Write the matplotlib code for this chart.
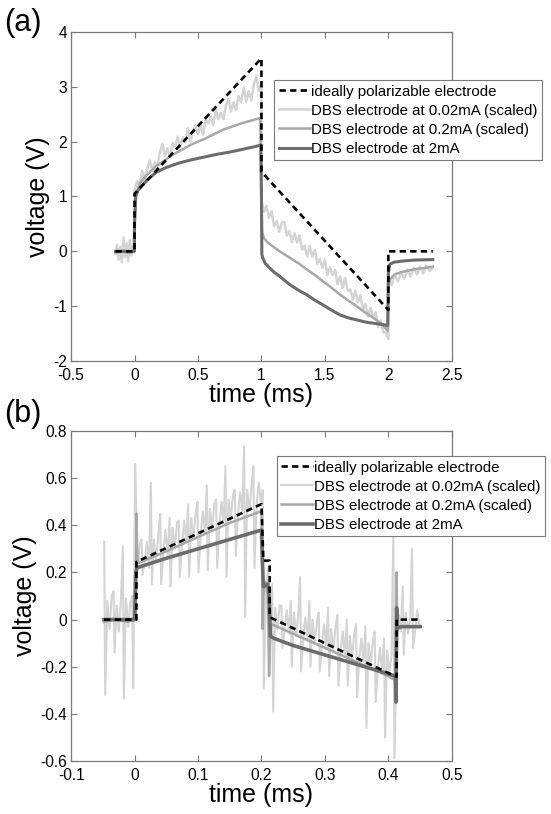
import numpy as np
import matplotlib
matplotlib.use("Agg")
import matplotlib.pyplot as plt
from matplotlib.ticker import FormatStrFormatter

plt.rcParams['font.family'] = ['Liberation Sans', 'DejaVu Sans']

labels = ["ideally polarizable electrode",
          "DBS electrode at 0.02mA (scaled)",
          "DBS electrode at 0.2mA (scaled)",
          "DBS electrode at 2mA"]
c_light, c_mid, c_dark = "#d4d4d4", "#a8a8a8", "#6c6c6c"

# ---------------- panel (a) ----------------
ideal_a_t = [-0.15, 0.0, 0.0, 1.0, 1.0, 2.0, 2.0, 2.35]
ideal_a_v = [0.0, 0.0, 1.05, 3.52, 1.45, -1.07, 0.0, 0.0]

# 0.02mA, noisy, sampled evenly in each phase
a002_pre = [-0.05, 0.12, -0.15, 0.08, -0.20, 0.25, -0.10, 0.15, -0.18, 0.20, -0.08, 0.10, 0.0]
a002_rise = [1.10, 1.28, 1.22, 1.47, 1.31, 1.50, 1.66, 1.48, 1.63, 1.54, 1.80, 1.96, 1.73,
             1.88, 1.72, 1.98, 1.90, 2.09, 1.90, 2.08, 1.99, 2.25, 2.00, 2.19, 2.29, 2.13,
             2.31, 2.13, 2.42, 2.33, 2.46, 2.30, 2.58, 2.41, 2.53, 2.41, 2.66, 2.78, 2.55,
             2.72, 2.58, 2.83, 2.72, 2.99, 2.73, 2.92, 2.75, 3.04, 3.20, 2.92, 3.05]
a002_decay = [0.94, 0.72, 0.83, 0.61, 0.73, 0.46, 0.55, 0.36, 0.52, 0.54, 0.29, 0.37, 0.17,
              0.33, 0.16, 0.29, 0.03, 0.10, -0.09, 0.10, -0.10, 0.03, -0.23, -0.14, -0.30,
              -0.15, -0.43, -0.29, -0.43, -0.34, -0.60, -0.46, -0.67, -0.49, -0.72, -0.70,
              -0.88, -0.72, -0.93, -0.80, -1.06, -0.96, -1.19, -1.03, -1.20, -1.11, -1.38,
              -1.26, -1.48, -1.48, -1.60]
a002_post = [-0.45, -0.62, -0.42, -0.55, -0.38, -0.50, -0.33, -0.46, -0.30, -0.42, -0.28,
             -0.40, -0.26, -0.36, -0.30]

a02_t = [-0.15, -0.1, -0.05, -0.002, 0.0, 0.01, 0.04, 0.1, 0.17, 0.3, 0.44, 0.55, 0.7, 0.85,
         0.99, 1.0, 1.005, 1.02, 1.05, 1.09, 1.15, 1.225, 1.3, 1.356, 1.42, 1.487, 1.55,
         1.62, 1.68, 1.75, 1.82, 1.88, 1.94, 1.995, 2.0, 2.01, 2.05, 2.1, 2.2, 2.35]
a02_v = [-0.02, 0.0, -0.03, 0.0, 0.5, 1.0, 1.24, 1.40, 1.55, 1.76, 1.94, 2.05, 2.22, 2.34,
         2.43, 1.0, 0.35, 0.24, 0.16, 0.09, -0.01, -0.12, -0.23, -0.33, -0.43, -0.55, -0.66,
         -0.79, -0.89, -1.0, -1.12, -1.21, -1.31, -1.45, -0.65, -0.52, -0.42, -0.38, -0.33, -0.28]

a2_t = [-0.15, -0.002, 0.0, 0.01, 0.03, 0.06, 0.1, 0.17, 0.25, 0.35, 0.45, 0.55, 0.65, 0.75,
        0.85, 0.95, 0.995, 1.0, 1.003, 1.01, 1.03, 1.067, 1.1, 1.146, 1.225, 1.3, 1.356, 1.42,
        1.487, 1.55, 1.619, 1.68, 1.75, 1.82, 1.88, 1.94, 1.995, 2.0, 2.01, 2.04, 2.1, 2.2, 2.35]
a2_v = [0.0, 0.0, 0.5, 1.02, 1.12, 1.2, 1.30, 1.44, 1.53, 1.61, 1.67, 1.72, 1.77, 1.81, 1.86,
        1.91, 1.94, 1.0, -0.05, -0.12, -0.22, -0.31, -0.38, -0.46, -0.61, -0.72, -0.79, -0.89,
        -0.98, -1.07, -1.16, -1.21, -1.25, -1.29, -1.31, -1.33, -1.35, -0.4, -0.24, -0.2,
        -0.18, -0.16, -0.15]

# ---------------- panel (b) ----------------
ideal_b_t = [-0.048, 0.003, 0.003, 0.2, 0.203, 0.213, 0.213, 0.413, 0.413, 0.45]
ideal_b_v = [0.0, 0.0, 0.245, 0.49, 0.25, 0.25, 0.01, -0.243, 0.0, 0.0]

# 0.02mA: periodic bipolar spikes (peak / trough) plus three samples between them
spike_t0, spike_period = -0.047, 0.0147
b002_up = [0.33, 0.12, 0.31, 0.10, 0.34, 0.58, 0.45, 0.43, 0.42, 0.49, 0.50, 0.57, 0.51,
           0.65, 0.55, 0.735, 0.65, 0.55, 0.15, 0.06, 0.08, 0.18, 0.08, 0.03, 0.05, 0.02,
           0.0, -0.02, -0.03, -0.05, -0.08, 0.37, 0.14, 0.30]
b002_dn = [-0.32, -0.14, -0.335, -0.29, 0.19, 0.15, 0.15, 0.14, 0.18, 0.18, 0.20, 0.21, 0.22,
           0.18, 0.27, 0.01, 0.22, -0.29, -0.39, -0.12, -0.20, -0.22, -0.20, -0.22, -0.24,
           -0.28, -0.28, -0.33, -0.46, -0.35, -0.50, -0.59, -0.15, -0.12]
b002_mid1 = [0.08, 0.06, 0.09, 0.66, 0.24, 0.34, 0.28, 0.39, 0.31, 0.43, 0.35, 0.47, 0.39,
             0.51, 0.44, 0.55, 0.48, 0.10, 0.05, -0.05, 0.03, -0.08, 0.0, -0.11, -0.04,
             -0.14, -0.07, -0.17, -0.10, -0.21, -0.13, -0.20, 0.03, -0.05]
b002_mid2 = [-0.04, -0.05, -0.03, 0.22, 0.33, 0.25, 0.38, 0.30, 0.42, 0.34, 0.46, 0.38, 0.50,
             0.42, 0.54, 0.46, 0.58, 0.22, -0.04, 0.04, -0.07, 0.01, -0.10, -0.02, -0.13,
             -0.05, -0.16, -0.08, -0.19, -0.12, -0.23, 0.02, -0.06, 0.04]
b002_mid3 = [0.10, 0.09, 0.07, 0.32, 0.22, 0.36, 0.27, 0.41, 0.33, 0.45, 0.37, 0.49, 0.41,
             0.53, 0.46, 0.57, 0.50, 0.04, 0.06, -0.06, 0.02, -0.09, -0.01, -0.12, -0.03,
             -0.15, -0.06, -0.18, -0.09, -0.22, -0.15, -0.05, 0.01, -0.03]

b02_t = [-0.048, -0.03, -0.01, 0.0, 0.002, 0.003, 0.004, 0.006, 0.05, 0.1, 0.15, 0.2, 0.201,
         0.202, 0.203, 0.206, 0.21, 0.212, 0.214, 0.216, 0.25, 0.3, 0.35, 0.4, 0.412, 0.413,
         0.414, 0.416, 0.43, 0.45]
b02_v = [-0.01, 0.0, -0.01, 0.0, 0.02, 0.45, 0.30, 0.24, 0.29, 0.35, 0.41, 0.46, 0.30, -0.04,
         0.10, 0.16, 0.14, -0.24, -0.03, -0.02, -0.06, -0.12, -0.18, -0.24, -0.26, 0.20, -0.05,
         -0.03, -0.03, -0.03]

b2_t = [-0.048, 0.0, 0.002, 0.004, 0.05, 0.1, 0.15, 0.2, 0.2015, 0.203, 0.21, 0.212, 0.214,
        0.22, 0.25, 0.3, 0.35, 0.4, 0.411, 0.412, 0.413, 0.414, 0.416, 0.42, 0.45]
b2_v = [0.0, 0.0, 0.2, 0.22, 0.26, 0.30, 0.34, 0.38, 0.25, 0.14, 0.15, 0.10, -0.07, -0.08,
        -0.11, -0.15, -0.19, -0.23, -0.24, -0.35, 0.05, -0.03, -0.035, -0.03, -0.03]

xt_a = [-0.5, 0, 0.5, 1, 1.5, 2, 2.5]
yt_a = [-2, -1, 0, 1, 2, 3, 4]
xt_b = [-0.1, 0, 0.1, 0.2, 0.3, 0.4, 0.5]
yt_b = [-0.6, -0.4, -0.2, 0, 0.2, 0.4, 0.6, 0.8]

# build sampled series
a002_t = np.concatenate([np.linspace(-0.15, 0, len(a002_pre)), np.linspace(0, 1, len(a002_rise)),
                         np.linspace(1, 2, len(a002_decay)), np.linspace(2, 2.35, len(a002_post))])
a002_v = np.concatenate([a002_pre, a002_rise, a002_decay, a002_post])

tk = spike_t0 + spike_period * np.arange(len(b002_up))
b002_t = np.column_stack([tk - 0.0008, tk + 0.0008, tk + 0.004, tk + 0.0075, tk + 0.011]).ravel()
b002_v = np.column_stack([b002_up, b002_dn, b002_mid1, b002_mid2, b002_mid3]).ravel()

fig = plt.figure(figsize=(5.51, 8.14), dpi=100)
ax1 = fig.add_axes([0.129, 0.5565, 0.691, 0.4042])
ax2 = fig.add_axes([0.129, 0.0651, 0.691, 0.4054])


def style(ax, xlim, ylim, xticks, yticks):
    ax.set_xlim(xlim)
    ax.set_ylim(ylim)
    ax.set_xticks(xticks)
    ax.set_yticks(yticks)
    ax.xaxis.set_major_formatter(FormatStrFormatter('%g'))
    ax.yaxis.set_major_formatter(FormatStrFormatter('%g'))
    for s in ax.spines.values():
        s.set_color('#7a7a7a')
        s.set_linewidth(0.9)
    ax.tick_params(direction='in', top=True, right=True, length=4, width=0.8,
                   color='#7a7a7a', labelsize=11.2, labelcolor='black')
    ax.tick_params(axis='x', pad=5)
    ax.tick_params(axis='y', pad=3)
    ax.set_xlabel('time (ms)', fontsize=18, labelpad=0)
    ax.set_ylabel('voltage (V)', fontsize=18, labelpad=2)


def draw(ax, it, iv, lt, lv, mt, mv, dt, dv, anchor, lw_light, lw_dark):
    ax.plot(lt, lv, color=c_light, lw=lw_light, label=labels[1], zorder=2)
    ax.plot(mt, mv, color=c_mid, lw=1.8, label=labels[2], zorder=3)
    ax.plot(dt, dv, color=c_dark, lw=lw_dark, label=labels[3], zorder=4)
    ax.plot(it, iv, color='black', lw=1.9, dashes=(2.4, 1.6), label=labels[0], zorder=5)
    h, l = ax.get_legend_handles_labels()
    order = [3, 0, 1, 2]
    leg = ax.legend([h[i] for i in order], [l[i] for i in order], loc='upper left',
                    bbox_to_anchor=anchor, bbox_transform=fig.transFigure,
                    fontsize=10.8, handlelength=2.07, handletextpad=0.1, borderpad=0.3,
                    labelspacing=0.34, borderaxespad=0, fancybox=False, framealpha=1)
    leg.get_frame().set_edgecolor('#7a7a7a')
    leg.get_frame().set_linewidth(0.8)
    leg.set_zorder(10)


draw(ax1, ideal_a_t, ideal_a_v, a002_t, a002_v, a02_t, a02_v, a2_t, a2_v,
     (0.4973, 0.9017), 1.8, 2.2)
style(ax1, (-0.5, 2.5), (-2, 4), xt_a, yt_a)

draw(ax2, ideal_b_t, ideal_b_v, b002_t, b002_v, b02_t, b02_v, b2_t, b2_v,
     (0.5027, 0.4398), 1.5, 2.6)
style(ax2, (-0.1, 0.5), (-0.6, 0.8), xt_b, yt_b)

fig.text(0.008, 0.99, '(a)', fontsize=22, va='top', ha='left')
fig.text(0.008, 0.51, '(b)', fontsize=22, va='top', ha='left')

fig.savefig('out.png', dpi=100)
